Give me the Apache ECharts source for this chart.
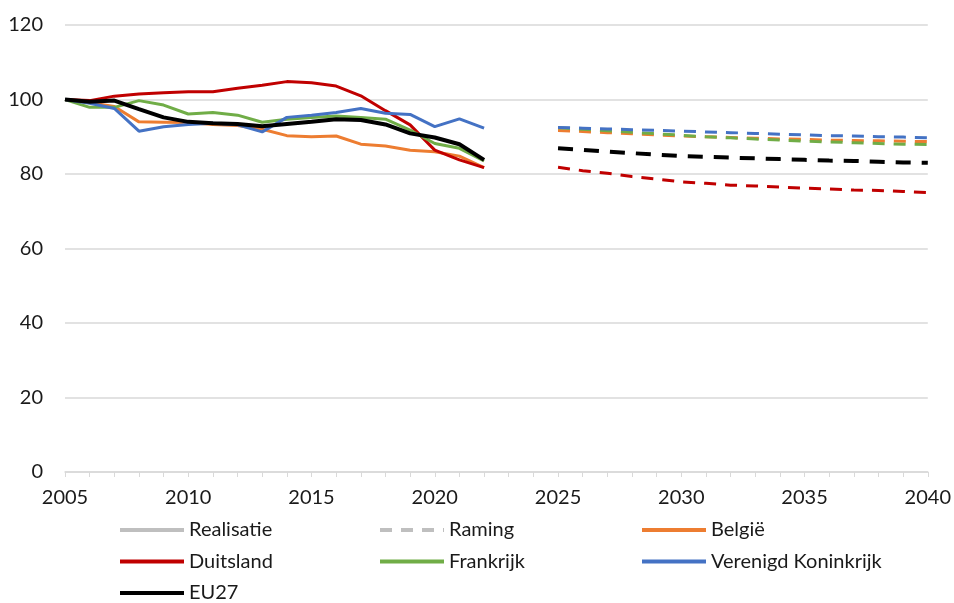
<!DOCTYPE html>
<html><head><meta charset="utf-8">
<script src="https://cdn.jsdelivr.net/npm/echarts@6/dist/echarts.min.js"></script>
<style>html,body{margin:0;padding:0;background:#fff}#c{width:954px;height:603px}</style>
</head><body><div id="c"></div>
<script>
const histYears = [2005,2006,2007,2008,2009,2010,2011,2012,2013,2014,2015,2016,2017,2018,2019,2020,2021,2022];
const projYears = [2025,2026,2027,2028,2029,2030,2031,2032,2033,2034,2035,2036,2037,2038,2039,2040];

const belgieHist = [100,99.1,98.1,94.0,93.9,93.8,93.3,93.0,92.0,90.3,90.0,90.2,88.0,87.5,86.4,86.0,84.8,81.7];
const duitslandHist = [100,99.7,100.9,101.5,101.8,102.1,102.1,103.0,103.8,104.8,104.5,103.6,101.0,97.0,93.2,86.4,83.8,81.7];
const frankrijkHist = [100,97.9,97.9,99.7,98.5,96.1,96.5,95.8,93.9,94.7,95.2,95.6,95.2,94.7,91.8,88.2,86.9,83.5];
const vkHist = [100,99.0,97.6,91.5,92.7,93.3,93.6,93.2,91.3,95.2,95.8,96.5,97.6,96.3,96.0,92.7,94.8,92.3];
const eu27Hist = [100,99.4,99.7,97.4,95.2,94.0,93.6,93.4,92.8,93.4,94.0,94.7,94.5,93.3,90.9,89.8,88.0,83.8];

const belgieProj = [91.7,91.4,91.1,90.8,90.5,90.2,90.0,89.8,89.6,89.4,89.3,89.1,89.0,88.9,88.8,88.7];
const duitslandProj = [81.8,80.9,80.2,79.3,78.6,77.9,77.5,77.0,76.8,76.5,76.2,76.0,75.7,75.6,75.3,75.0];
const frankrijkProj = [92.4,92.0,91.6,91.2,90.8,90.4,90.0,89.7,89.4,89.1,88.8,88.6,88.4,88.2,88.0,87.9];
const vkProj = [92.5,92.3,92.1,91.9,91.7,91.5,91.3,91.1,90.9,90.7,90.5,90.3,90.2,90.0,89.9,89.7];
const eu27Proj = [86.9,86.5,86.0,85.6,85.2,84.8,84.6,84.4,84.2,84.0,83.8,83.6,83.5,83.3,83.1,83.0];

const xTicks = {min: 2005, max: 2040, interval: 5};
const yTicks = {min: 0, max: 120, interval: 20};

const FONT = 'Lato';
const pair = (xs, ys) => xs.map((x, i) => [x, ys[i]]);

const countries = [
  {name: 'België', color: '#ED7D31', hist: belgieHist, proj: belgieProj, w: 3},
  {name: 'Duitsland', color: '#C00000', hist: duitslandHist, proj: duitslandProj, w: 3},
  {name: 'Frankrijk', color: '#70AD47', hist: frankrijkHist, proj: frankrijkProj, w: 3},
  {name: 'Verenigd Koninkrijk', color: '#4472C4', hist: vkHist, proj: vkProj, w: 3},
  {name: 'EU27', color: '#000000', hist: eu27Hist, proj: eu27Proj, w: 4}
];

const series = [
  {name: 'Realisatie', type: 'line', data: [], symbol: 'none', itemStyle: {color: '#BFBFBF'}, lineStyle: {color: '#BFBFBF', width: 4}},
  {name: 'Raming', type: 'line', data: [], symbol: 'none', itemStyle: {color: '#BFBFBF'}, lineStyle: {color: '#BFBFBF', width: 4, type: [12, 9]}}
];
countries.forEach(c => {
  series.push({name: c.name, type: 'line', data: pair(histYears, c.hist), symbol: 'none',
    itemStyle: {color: c.color}, lineStyle: {color: c.color, width: c.w}, z: c.name === 'EU27' ? 5 : 3});
});
countries.forEach(c => {
  series.push({name: c.name + ' raming', type: 'line', data: pair(projYears, c.proj), symbol: 'none',
    itemStyle: {color: c.color},
    lineStyle: {color: c.color, width: c.w, type: c.name === 'EU27' ? [15, 11] : [12, 9]}, z: 3});
});

const legendBase = {
  orient: 'vertical', top: 520, itemWidth: 64, itemHeight: 14, itemGap: 11.5,
  textStyle: {fontFamily: FONT, fontSize: 20, color: '#1a1a1a', lineHeight: 20, padding: [0, 0, 0, 0]},
  padding: 0, itemStyle: {opacity: 0, borderWidth: 0}, lineStyle: {width: 4}
};

const chart = echarts.init(document.getElementById('c'), null, {renderer: 'canvas'});
chart.setOption({
  backgroundColor: '#fff',
  animation: false,
  grid: {left: 65, right: 26, top: 25, bottom: 131, containLabel: false},
  xAxis: {
    type: 'value', min: xTicks.min, max: xTicks.max, interval: xTicks.interval,
    axisLine: {show: true, lineStyle: {color: '#D9D9D9', width: 1.5}},
    axisTick: {show: true, length: 5, lineStyle: {color: '#D9D9D9'}},
    minorTick: {show: true, splitNumber: 5, length: 5, lineStyle: {color: '#D9D9D9'}},
    splitLine: {show: false},
    axisLabel: {fontFamily: FONT, fontSize: 20, color: '#1a1a1a', margin: 16, formatter: v => String(v)}
  },
  yAxis: {
    type: 'value', min: yTicks.min, max: yTicks.max, interval: yTicks.interval,
    axisLine: {show: false}, axisTick: {show: false},
    splitLine: {show: true, lineStyle: {color: '#D9D9D9', width: 1.5}},
    axisLabel: {fontFamily: FONT, fontSize: 20, color: '#1a1a1a', margin: 22}
  },
  legend: [
    Object.assign({}, legendBase, {left: 118, data: ['Realisatie', 'Duitsland', 'EU27']}),
    Object.assign({}, legendBase, {left: 378, data: ['Raming', 'Frankrijk']}),
    Object.assign({}, legendBase, {left: 640, data: ['België', 'Verenigd Koninkrijk']})
  ],
  series: series
});
</script></body></html>
